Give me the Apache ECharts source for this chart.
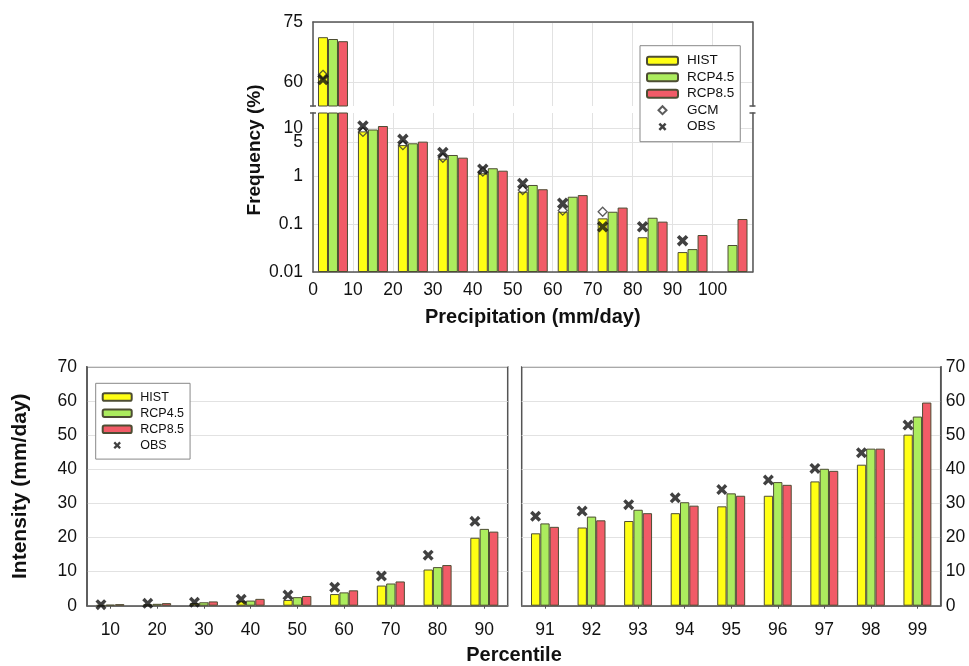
<!DOCTYPE html>
<html>
<head>
<meta charset="utf-8">
<script src="https://cdn.jsdelivr.net/npm/echarts@6/dist/echarts.min.js"></script>
<style>
  html, body { margin: 0; padding: 0; background: #fff; }
  #chart { width: 969px; height: 666px; }
</style>
</head>
<body>
<div id="chart"></div>
<script>
// Frequency of daily precipitation in 10 mm/day bins (%)
const binStarts = [0, 10, 20, 30, 40, 50, 60, 70, 80, 90, 100];
const freqHist  = [71.2, 8.5, 4.4, 2.3, 1.14, 0.47, 0.18, 0.131, 0.053, 0.026, null];
const freqRcp45 = [70.75, 9.3, 4.8, 2.74, 1.45, 0.65, 0.37, 0.18, 0.135, 0.030, 0.0365];
const freqRcp85 = [70.2, 11.0, 5.2, 2.41, 1.29, 0.53, 0.40, 0.22, 0.112, 0.059, 0.127];
const freqGcm   = [61.8, 8.3, 4.4, 2.4, 1.23, 0.51, 0.19, 0.18, null, null, null];
const freqObs   = [60.6, 11.0, 5.8, 3.1, 1.38, 0.70, 0.27, 0.088, 0.088, 0.045, null];
const freqTicksUpper = [60, 75];
const freqTicksLower = [0.01, 0.1, 1, 5, 10];

// Precipitation intensity at each percentile (mm/day)
const pctLow       = ['10', '20', '30', '40', '50', '60', '70', '80', '90'];
const intHistLow   = [0.2, 0.4, 0.8, 1.3, 1.7, 3.4, 5.9, 10.6, 19.9];
const intRcp45Low  = [0.3, 0.55, 1.0, 1.5, 2.5, 3.9, 6.5, 11.3, 22.5];
const intRcp85Low  = [0.45, 0.75, 1.25, 2.0, 2.85, 4.5, 7.1, 11.9, 21.7];
const intObsLow    = [0.3, 0.7, 1.0, 1.9, 3.1, 5.4, 8.7, 14.8, 24.7];
const pctHigh      = ['91', '92', '93', '94', '95', '96', '97', '98', '99'];
const intHistHigh  = [21.2, 22.9, 24.8, 27.1, 29.1, 32.2, 36.4, 41.3, 50.1];
const intRcp45High = [24.1, 26.1, 28.1, 30.3, 32.9, 36.2, 40.1, 46.0, 55.4];
const intRcp85High = [23.1, 25.0, 27.1, 29.3, 32.2, 35.4, 39.5, 46.0, 59.5];
const intObsHigh   = [26.2, 27.7, 29.6, 31.6, 34.0, 36.8, 40.2, 44.8, 52.9];

const BIN = 10;
const FONT = "'Liberation Sans', Arial, sans-serif";
const YELLOW = '#ffff14', GREEN = '#acec5e', RED = '#f15b67';
const BAR_EDGE = '#4d4d33';
const FRAME = '#555555';
const GRIDLINE = '#e2e2e2';
const OBS_SYMBOL = 'path://M0,2.2 L2.2,0 L5,2.8 L7.8,0 L10,2.2 L7.2,5 L10,7.8 L7.8,10 L5,7.2 L2.2,10 L0,7.8 L2.8,5 Z';
const GCM_SYMBOL = 'path://M5,0 L10,5 L5,10 L0,5 Z';

// Top panel geometry (broken frequency axis: linear above, log below)
const T = { left: 313, width: 439.5, upTop: 22, upH: 84, loTop: 113, loH: 159 };
const LOG_MIN = 0.01, LOG_MAX = 20.54;
// Bottom panels
const B = { top: 366.7, h: 239, lLeft: 87, lW: 420.7, rLeft: 521.7, rW: 419 };

const binned = vals => binStarts.map((b, i) => [b + BIN / 2, vals[i]]);
// the closely spaced 5 and 10 labels go on two stacked axes so both stay visible
const isDecade = v => Math.abs(Math.log10(v) - Math.round(Math.log10(v))) < 1e-9;
const logLabelsMain = freqTicksLower.filter(isDecade);
const logLabelsExtra = freqTicksLower.filter(v => !isDecade(v));

function topBar(name, vals, color, gi) {
  return {
    name, type: 'bar', xAxisIndex: gi, yAxisIndex: gi * 2,
    data: binned(vals), barGap: 0, barCategoryGap: '25%', clip: true,
    itemStyle: { color, borderColor: BAR_EDGE, borderWidth: 1 }
  };
}
function topGcm(gi) {
  return {
    name: 'GCM', type: 'scatter', xAxisIndex: gi, yAxisIndex: gi * 2, clip: true,
    data: binned(freqGcm), symbol: GCM_SYMBOL, symbolKeepAspect: true, symbolSize: 9, symbolOffset: [-10, 0],
    itemStyle: { color: 'rgba(255,255,255,0)', borderColor: '#333', borderWidth: 1.3 }, z: 5
  };
}
function topObs(gi) {
  return {
    name: 'OBS', type: 'scatter', xAxisIndex: gi, yAxisIndex: gi * 2, clip: true,
    data: binned(freqObs), symbol: OBS_SYMBOL, symbolKeepAspect: true, symbolSize: 11.5, symbolOffset: [-10, 0],
    itemStyle: { color: '#111' }, z: 6
  };
}
function lowBar(name, vals, color, xi, yi) {
  return {
    name, type: 'bar', xAxisIndex: xi, yAxisIndex: yi, data: vals,
    barGap: 0, barCategoryGap: '40%',
    itemStyle: { color, borderColor: BAR_EDGE, borderWidth: 1 }
  };
}
function lowObs(vals, xi, yi) {
  return {
    name: 'OBS', type: 'scatter', xAxisIndex: xi, yAxisIndex: yi, data: vals,
    symbol: OBS_SYMBOL, symbolKeepAspect: true, symbolSize: 11, symbolOffset: [-9.4, 0],
    itemStyle: { color: '#111' }, z: 6
  };
}

const labelStyle = { color: '#111', fontFamily: FONT, fontSize: 17.5, hideOverlap: false };
const frameLine = { show: true, lineStyle: { color: FRAME, width: 1.5 } };
const splitStyle = { show: true, lineStyle: { color: GRIDLINE, width: 1 } };
const logFormatter = v => String(+Number(v).toPrecision(3));

const gridBase = { containLabel: false, outerBoundsMode: 'none' };

const option = {
  backgroundColor: '#fff',
  animation: false,
  textStyle: { fontFamily: FONT },
  grid: [
    Object.assign({ left: T.left, width: T.width, top: T.upTop, height: T.upH }, gridBase),
    Object.assign({ left: T.left, width: T.width, top: T.loTop, height: T.loH }, gridBase),
    Object.assign({ left: B.lLeft, width: B.lW, top: B.top, height: B.h, show: true,
      borderColor: FRAME, borderWidth: 1.5 }, gridBase),
    Object.assign({ left: B.rLeft, width: B.rW, top: B.top, height: B.h, show: true,
      borderColor: FRAME, borderWidth: 1.5 }, gridBase)
  ],
  xAxis: [
    { type: 'value', gridIndex: 0, position: 'top', min: 0, max: 110, interval: BIN,
      axisLine: frameLine, axisTick: { show: false }, axisLabel: { show: false }, splitLine: splitStyle },
    { type: 'value', gridIndex: 1, position: 'bottom', min: 0, max: 110, interval: BIN,
      axisLine: frameLine, axisTick: { show: false },
      axisLabel: Object.assign({ margin: 9, showMaxLabel: false }, labelStyle),
      splitLine: splitStyle,
      name: 'Precipitation (mm/day)', nameLocation: 'middle', nameGap: 35,
      nameTextStyle: { fontFamily: FONT, fontSize: 20, fontWeight: 'bold', color: '#111' } },
    { type: 'category', gridIndex: 2, data: pctLow,
      axisLine: frameLine, axisTick: { show: true, alignWithLabel: true, length: 3, lineStyle: { color: FRAME } },
      axisLabel: Object.assign({ margin: 15, interval: 0 }, labelStyle) },
    { type: 'category', gridIndex: 3, data: pctHigh,
      axisLine: frameLine, axisTick: { show: true, alignWithLabel: true, length: 3, lineStyle: { color: FRAME } },
      axisLabel: Object.assign({ margin: 15, interval: 0 }, labelStyle) }
  ],
  yAxis: [
    { type: 'value', gridIndex: 0, position: 'left', min: 54, max: 75,
      axisLine: frameLine,
      axisTick: { show: false, customValues: freqTicksUpper },
      axisLabel: Object.assign({ margin: 10, customValues: freqTicksUpper }, labelStyle),
      splitLine: splitStyle },
    { type: 'value', gridIndex: 0, position: 'right', min: 54, max: 75,
      axisLine: frameLine, axisTick: { show: false }, axisLabel: { show: false }, splitLine: { show: false } },
    { type: 'log', gridIndex: 1, position: 'left', min: LOG_MIN, max: LOG_MAX, startValue: LOG_MIN,
      axisLine: frameLine,
      axisTick: { show: false, customValues: freqTicksLower },
      axisLabel: Object.assign({}, labelStyle, { margin: 10, customValues: logLabelsMain,
        showMaxLabel: true, showMinLabel: true, formatter: logFormatter }),
      splitLine: splitStyle },
    { type: 'log', gridIndex: 1, position: 'right', min: LOG_MIN, max: LOG_MAX,
      axisLine: frameLine, axisTick: { show: false }, axisLabel: { show: false }, splitLine: { show: false } },
    { type: 'value', gridIndex: 2, position: 'left', min: 0, max: 70, interval: 10,
      axisLine: frameLine, axisTick: { show: false },
      axisLabel: Object.assign({ margin: 10 }, labelStyle),
      splitLine: splitStyle,
      name: 'Intensity (mm/day)', nameLocation: 'middle', nameGap: 56, nameRotate: 90,
      nameTextStyle: { fontFamily: FONT, fontSize: 21, fontWeight: 'bold', color: '#111' } },
    { type: 'value', gridIndex: 3, position: 'right', min: 0, max: 70, interval: 10,
      axisLine: frameLine, axisTick: { show: false },
      axisLabel: Object.assign({ margin: 5 }, labelStyle),
      splitLine: splitStyle },
    { type: 'log', gridIndex: 1, position: 'left', offset: 0, min: LOG_MIN, max: LOG_MAX,
      axisLine: { show: false }, axisTick: { show: false, customValues: logLabelsExtra },
      axisLabel: Object.assign({}, labelStyle, { margin: 10, customValues: logLabelsExtra,
        showMaxLabel: true, showMinLabel: true, formatter: logFormatter }),
      splitLine: { show: false } }
  ],
  legend: [
    { data: ['HIST', 'RCP4.5', 'RCP8.5', 'GCM', 'OBS'], orient: 'vertical',
      left: 640, top: 45.7, itemWidth: 31, itemHeight: 8, itemGap: 2.5, symbolKeepAspect: true,
      padding: [8, 6, 8, 6], backgroundColor: '#fff', borderColor: '#888', borderWidth: 1,
      selectedMode: false,
      textStyle: { fontFamily: FONT, fontSize: 13.5, lineHeight: 14, color: '#111', padding: [0, 0, 0, 4] } },
    { data: ['HIST', 'RCP4.5', 'RCP8.5', 'OBS'], orient: 'vertical',
      left: 95.7, top: 383.3, itemWidth: 29, itemHeight: 7.5, itemGap: 2.6, symbolKeepAspect: true,
      padding: [7, 6, 7, 6], backgroundColor: '#fff', borderColor: '#888', borderWidth: 1,
      selectedMode: false,
      textStyle: { fontFamily: FONT, fontSize: 12.5, lineHeight: 13.5, color: '#111', padding: [0, 0, 0, 3.6] } }
  ],
  series: [
    topBar('HIST', freqHist, YELLOW, 0), topBar('RCP4.5', freqRcp45, GREEN, 0), topBar('RCP8.5', freqRcp85, RED, 0),
    topGcm(0), topObs(0),
    topBar('HIST', freqHist, YELLOW, 1), topBar('RCP4.5', freqRcp45, GREEN, 1), topBar('RCP8.5', freqRcp85, RED, 1),
    topGcm(1), topObs(1),
    lowBar('HIST', intHistLow, YELLOW, 2, 4), lowBar('RCP4.5', intRcp45Low, GREEN, 2, 4), lowBar('RCP8.5', intRcp85Low, RED, 2, 4),
    lowObs(intObsLow, 2, 4),
    lowBar('HIST', intHistHigh, YELLOW, 3, 5), lowBar('RCP4.5', intRcp45High, GREEN, 3, 5), lowBar('RCP8.5', intRcp85High, RED, 3, 5),
    lowObs(intObsHigh, 3, 5)
  ],
  graphic: (function () {
    const els = [];
    const breakYs = [T.upTop + T.upH, T.loTop];
    [T.left, T.left + T.width].forEach(x => {
      breakYs.forEach(y => {
        els.push({ type: 'line', shape: { x1: x - 3, y1: y, x2: x + 3, y2: y },
          style: { stroke: FRAME, lineWidth: 1.5 }, z: 100 });
      });
    });
    els.push({ type: 'text', x: 255, y: 150, rotation: Math.PI / 2,
      style: { text: 'Frequency (%)', font: "bold 19px 'Liberation Sans', Arial, sans-serif",
        fill: '#111', textAlign: 'center', textVerticalAlign: 'middle' } });
    els.push({ type: 'text', x: 514, y: 655,
      style: { text: 'Percentile', font: "bold 20px 'Liberation Sans', Arial, sans-serif",
        fill: '#111', textAlign: 'center', textVerticalAlign: 'middle' } });
    return els;
  })()
};

const chart = echarts.init(document.getElementById('chart'), null, { renderer: 'canvas' });
chart.setOption(option);
</script>
</body>
</html>
